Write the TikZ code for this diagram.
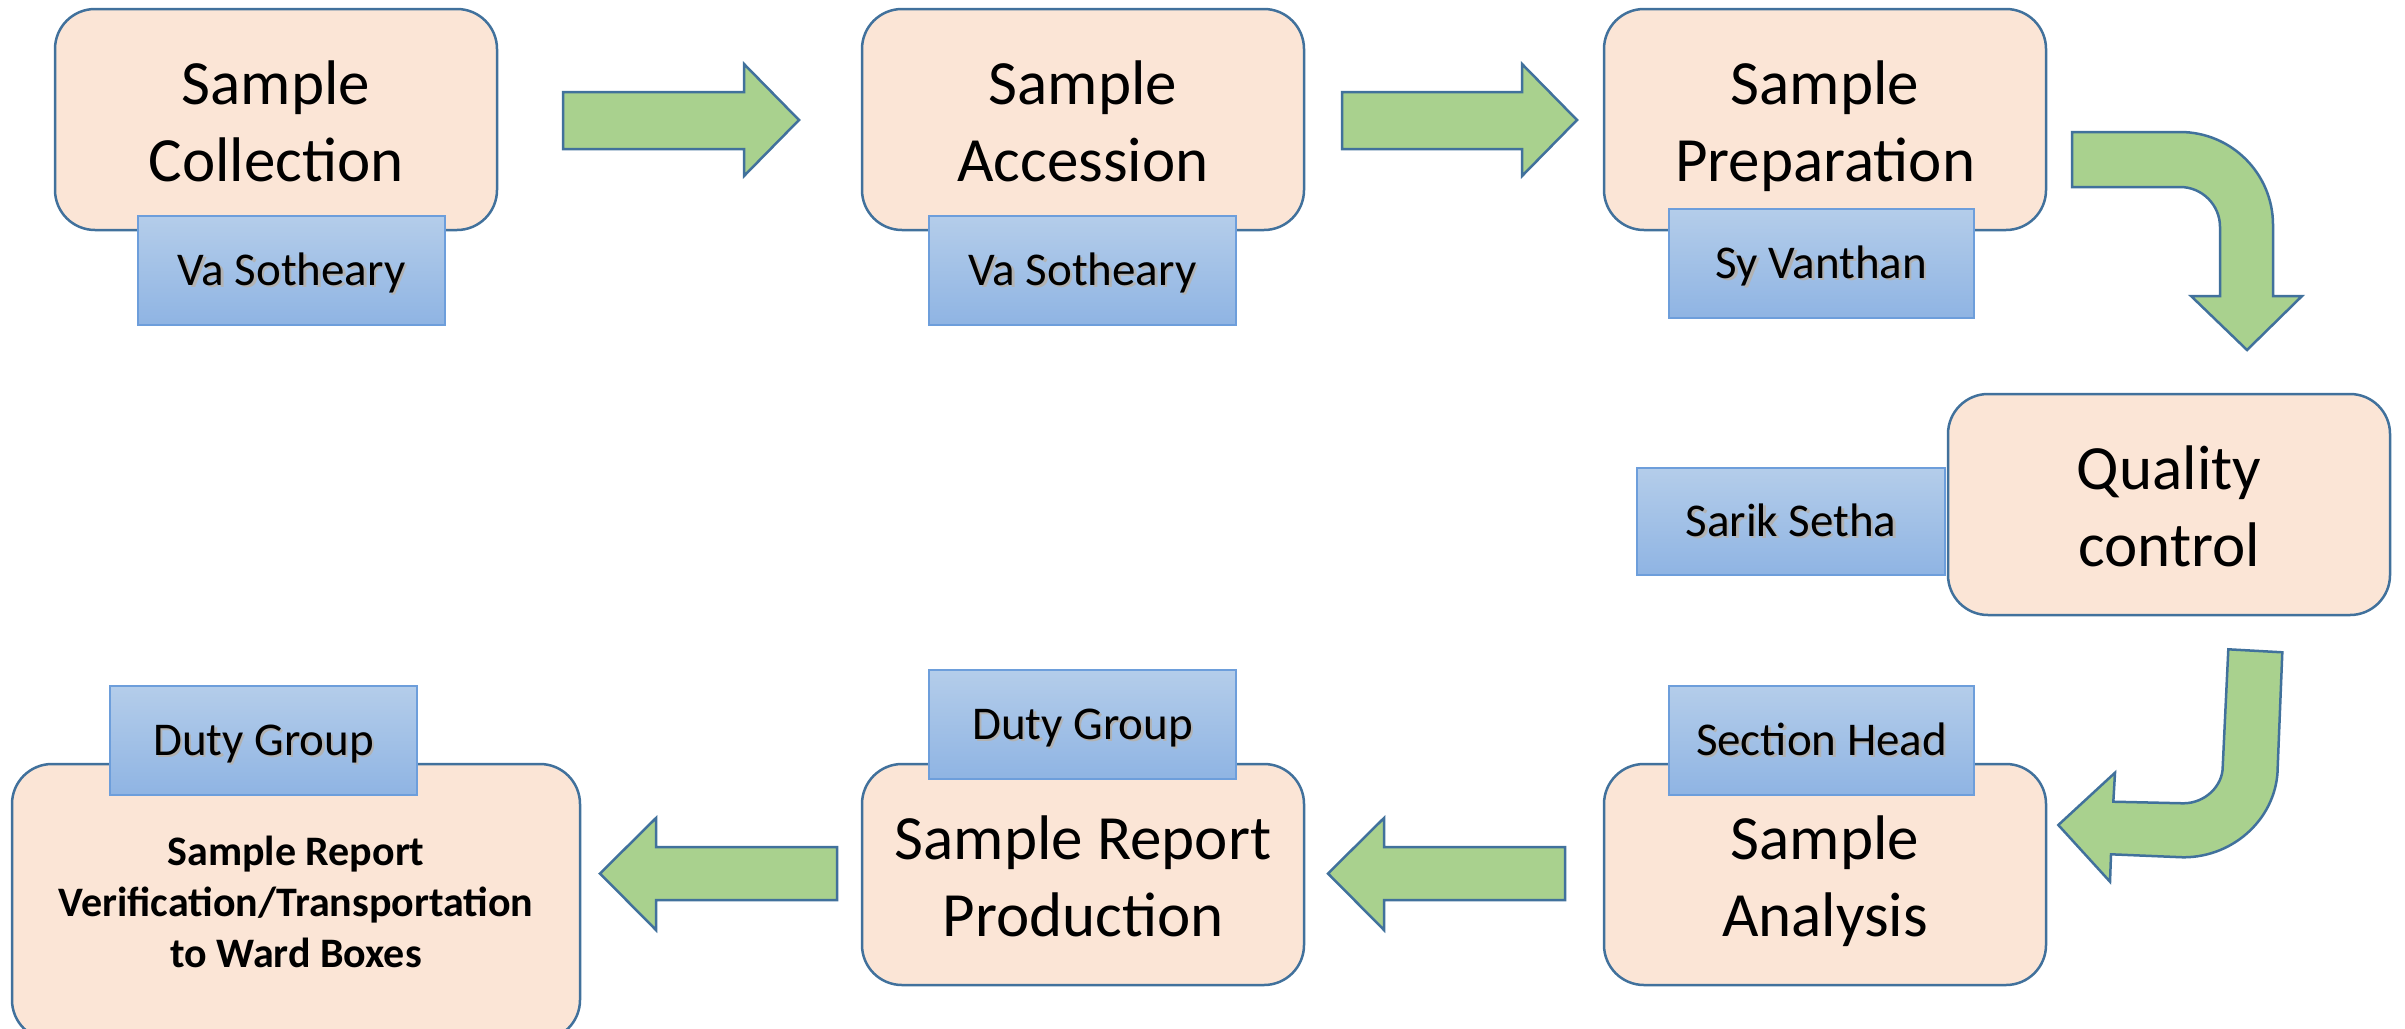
\documentclass[tikz,border=0pt]{standalone}
\usepackage{fontspec}
\setmainfont{Carlito}
\definecolor{peach}{HTML}{FBE5D6}
\definecolor{bluebord}{HTML}{41719C}
\definecolor{arrowgreen}{HTML}{A9D18E}
\definecolor{subtop}{HTML}{B4CDEA}
\definecolor{subbot}{HTML}{8FB4E3}
\definecolor{subbord}{HTML}{6D9EDB}
% person label: baseline 14.5pt below the node centre, with a soft shadow
\newcommand\shd[1]{\raisebox{-14.5pt}[0pt][0pt]{\rlap{\hspace{2.5pt}\raisebox{-2.5pt}[0pt][0pt]{\textcolor{black!30}{#1}}}#1}}
% stage label: first baseline 15.5pt above the node centre
\newcommand\stg[1]{\raisebox{15.5pt}[0pt][0pt]{\begin{tabular}[t]{@{}c@{}}#1\end{tabular}}}
\tikzset{
  stagebox/.style={draw=bluebord, line width=2.5pt, fill=peach, rounded corners=40pt,
    align=center, inner sep=0pt, minimum width=442pt, minimum height=221pt,
    font=\fontsize{63}{77}\selectfont},
  whobox/.style={draw=subbord, line width=1.5pt, top color=subtop, bottom color=subbot,
    inner sep=0pt, minimum width=307pt, minimum height=109pt,
    font=\fontsize{47}{56}\selectfont},
  blockarrow/.style={draw=bluebord, line width=2.5pt, fill=arrowgreen, line join=miter}
}
\begin{document}
\begin{tikzpicture}[x=1pt,y=-1pt]
\useasboundingbox (0,0) rectangle (2405,1028);
% stage boxes
\node[stagebox] (c1) at (276,119.5) {\stg{Sample\\Collection}};
\node[stagebox] (c2) at (1083,119.5) {\stg{Sample\\Accession}};
\node[stagebox] (c3) at (1825,119.5) {\stg{Sample\\Preparation}};
\node[stagebox] (qc) at (2169,504.5) {\stg{Quality\\control}};
\node[stagebox] (an) at (1825,874.5) {\stg{Sample\\Analysis}};
\node[stagebox] (rp) at (1083,874.5) {\stg{Sample Report\\Production}};
\node[stagebox, minimum width=568pt, minimum height=276pt,
  font=\fontsize{42}{51}\selectfont\bfseries] (vt) at (296,902)
  {Sample Report\\Verification/Transportation\\to Ward Boxes};
% responsible persons
\node[whobox] (w1) at (291.5,270.5) {\shd{Va Sotheary}};
\node[whobox] (w2) at (1082.5,270.5) {\shd{Va Sotheary}};
\node[whobox, minimum width=305pt] (w3) at (1821.5,263.5) {\shd{Sy Vanthan}};
\node[whobox, minimum width=308pt, minimum height=107pt] (w4) at (1791,521.5) {\shd{Sarik Setha}};
\node[whobox, minimum width=305pt] (w5) at (1821.5,740.5) {\shd{Section Head}};
\node[whobox] (w6) at (1082.5,724.5) {\shd{Duty Group}};
\node[whobox] (w7) at (263.5,740.5) {\shd{Duty Group}};
% straight block arrows
\draw[blockarrow] (563,92) -- (744,92) -- (744,64) -- (799,120) -- (744,176) -- (744,149) -- (563,149) -- cycle;
\draw[blockarrow] (1342,92) -- (1522,92) -- (1522,64) -- (1577,120) -- (1522,176) -- (1522,149) -- (1342,149) -- cycle;
\draw[blockarrow] (1565,847) -- (1384,847) -- (1384,818) -- (1328,873.5) -- (1384,930) -- (1384,900) -- (1565,900) -- cycle;
\draw[blockarrow] (837,847) -- (656,847) -- (656,818) -- (600,873.5) -- (656,930) -- (656,900) -- (837,900) -- cycle;
% bent arrow: preparation -> quality control
\draw[blockarrow] (2072,132) -- (2180,132) .. controls (2231.4,132) and (2273,173.6) .. (2273,225)
  -- (2273,296) -- (2302,296) -- (2247,350) -- (2191,296) -- (2220,296) -- (2220,227)
  .. controls (2220,204.9) and (2202.1,187) .. (2180,187) -- (2072,187) -- cycle;
% bent arrow: quality control -> analysis
\draw[blockarrow] (2228.3,649.3) -- (2282.3,652.3) -- (2277.7,766.7)
  .. controls (2277.7,816.5) and (2235,857.3) .. (2183.3,857.3)
  -- (2111,854.3) -- (2110,881.7) -- (2058.3,825) -- (2115,772.7) -- (2113.3,801.7)
  -- (2183.3,803.3) .. controls (2205,803.3) and (2222.7,786) .. (2222.7,766.7) -- cycle;
\end{tikzpicture}
\end{document}
